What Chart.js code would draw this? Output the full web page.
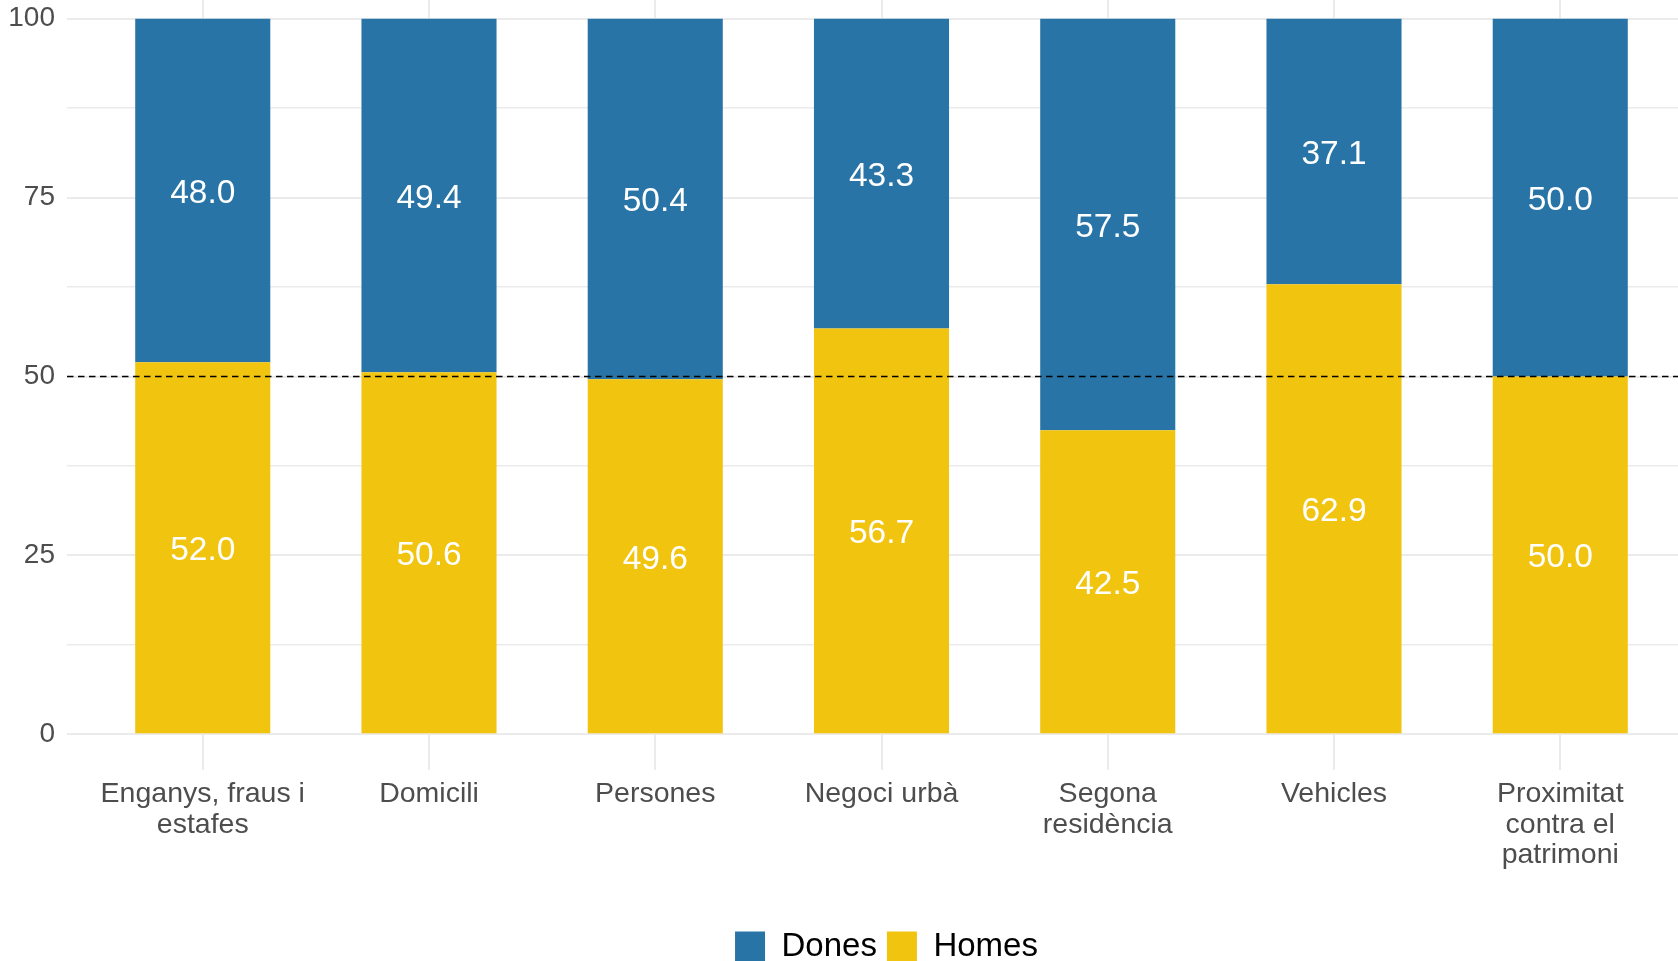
<!DOCTYPE html>
<html>
<head>
<meta charset="utf-8">
<script src="https://cdn.jsdelivr.net/npm/chart.js@4"></script>
<style>
  html, body { margin: 0; padding: 0; background: #ffffff; overflow: hidden; width: 1678px; height: 961px; }
  #wrap { position: absolute; left: 0; top: -60px; width: 1772px; height: 1038px; }
</style>
</head>
<body>
<div id="wrap"><canvas id="c" width="1772" height="1038"></canvas></div>
<script>
// ---- data ----
const categories = ["Enganys, fraus i\nestafes", "Domicili", "Persones", "Negoci urbà", "Segona\nresidència", "Vehicles", "Proximitat\ncontra el\npatrimoni"];
const dones = [48.0, 49.4, 50.4, 43.3, 57.5, 37.1, 50.0];
const homes = [52.0, 50.6, 49.6, 56.7, 42.5, 62.9, 50.0];
const yTicks = [0, 25, 50, 75, 100];
const yMinorTicks = [12.5, 37.5, 62.5, 87.5];
const referenceLine = 50;

const FONT = "'Liberation Sans', Arial, sans-serif";
const BLUE = '#2874A6';
const YELLOW = '#F1C40F';

const toPoints = arr => arr.map((v, i) => ({ x: i + 1, y: v }));

const overlayPlugin = {
  id: 'overlay',
  afterLayout(chart) {
    if (chart.legend) { chart.legend.left += 5; chart.legend.right += 5; }
  },
  afterDatasetsDraw(chart) {
    const ctx = chart.ctx;
    const area = chart.chartArea;
    const y = chart.scales.y.getPixelForValue(referenceLine);
    ctx.save();
    ctx.strokeStyle = '#000000';
    ctx.lineWidth = 1.5;
    ctx.setLineDash([6.5, 4.5]);
    ctx.beginPath();
    ctx.moveTo(area.left, y);
    ctx.lineTo(area.right, y);
    ctx.stroke();
    ctx.restore();

    ctx.save();
    ctx.fillStyle = '#ffffff';
    ctx.font = '33.5px ' + FONT;
    ctx.textAlign = 'center';
    ctx.textBaseline = 'middle';
    chart.data.datasets.forEach((ds, di) => {
      const meta = chart.getDatasetMeta(di);
      meta.data.forEach((el, i) => {
        const v = ds.data[i].y;
        ctx.fillText(v.toFixed(1), el.x, (el.y + el.base) / 2 + 3);
      });
    });
    ctx.restore();
  }
};

new Chart(document.getElementById('c'), {
  type: 'bar',
  data: {
    datasets: [
      { label: 'Homes', data: toPoints(homes), backgroundColor: YELLOW, borderWidth: 0 },
      { label: 'Dones', data: toPoints(dones), backgroundColor: BLUE, borderWidth: 0 }
    ]
  },
  options: {
    responsive: false,
    devicePixelRatio: 1,
    animation: false,
    layout: { padding: { top: 43, right: 76, bottom: 5, left: 0 } },
    datasets: { bar: { barPercentage: 0.597, categoryPercentage: 1 } },
    plugins: {
      tooltip: { enabled: false },
      legend: {
        position: 'bottom',
        fullSize: false,
        reverse: true,
        labels: {
          boxWidth: 30, boxHeight: 30, padding: 10,
          color: '#000000',
          font: { family: FONT, size: 33 }
        }
      }
    },
    scales: {
      x: {
        type: 'linear',
        stacked: true,
        offset: false,
        min: 0.4, max: 7.6,
        border: { display: false },
        grid: { color: '#EBEBEB', lineWidth: 2, drawTicks: false, offset: false },
        afterBuildTicks(scale) { scale.ticks = categories.map((c, i) => ({ value: i + 1 })); },
        afterFit(scale) { scale.height = 150; },
        ticks: {
          padding: 9,
          color: '#4D4D4D',
          font: { family: FONT, size: 28.5, lineHeight: 1.07 },
          maxRotation: 0, autoSkip: false,
          callback: v => (categories[v - 1] || '').split('\n')
        }
      },
      y: {
        stacked: true,
        min: -5, max: 105,
        border: { display: false },
        grid: {
          color: '#EBEBEB',
          drawTicks: false,
          lineWidth: ctx => (yTicks.includes(ctx.tick.value) ? 2 : 1.5)
        },
        afterBuildTicks(scale) {
          scale.ticks = [...yTicks, ...yMinorTicks].sort((a, b) => a - b).map(v => ({ value: v }));
        },
        afterFit(scale) { scale.width = 67; },
        ticks: {
          padding: 12,
          color: '#4D4D4D',
          font: { family: FONT, size: 28 },
          callback: v => (yTicks.includes(v) ? String(v) : '')
        }
      }
    }
  },
  plugins: [overlayPlugin]
});
</script>
</body>
</html>
